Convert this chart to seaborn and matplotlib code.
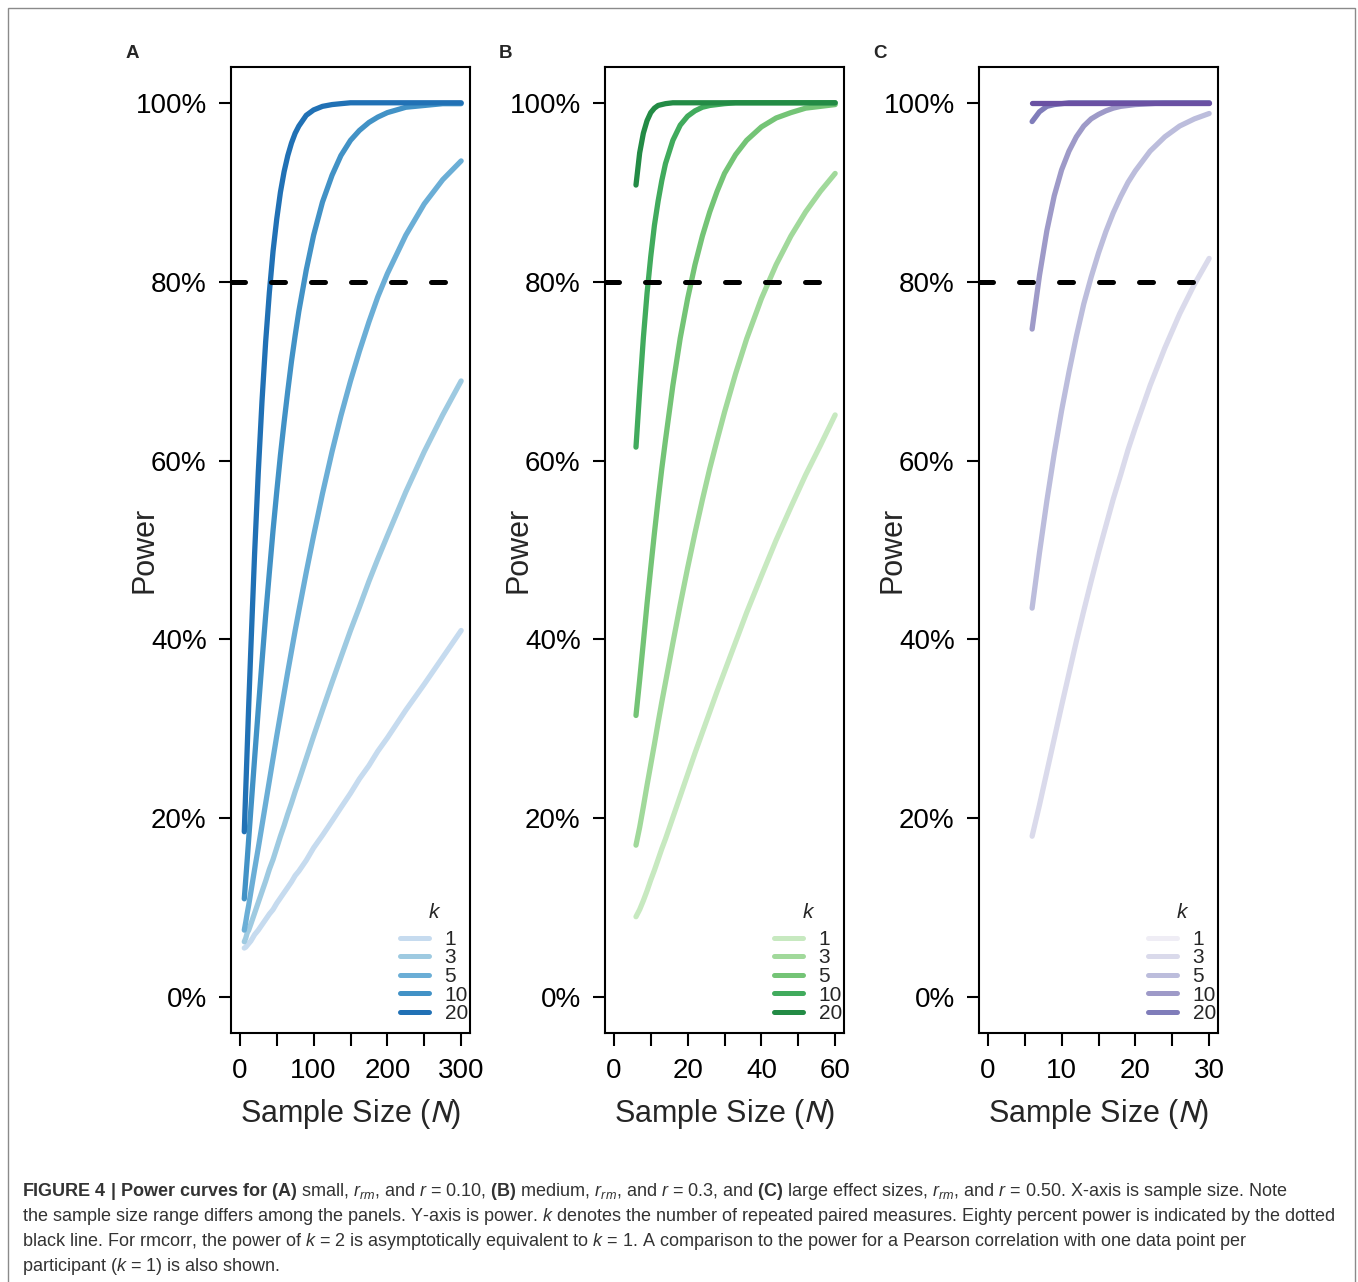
import numpy as np
import pandas as pd
import matplotlib
matplotlib.use("Agg")
import matplotlib.pyplot as plt
import seaborn as sns
from matplotlib import font_manager
from matplotlib.lines import Line2D
from matplotlib.patches import Rectangle
from matplotlib.ticker import PercentFormatter

# ---- data (power as a fraction) ----
k_levels = [1, 3, 5, 10, 20]
target_power = 0.80

# A: small effect, r = 0.10
a_n = [6, 8, 10, 12, 15, 20, 25, 30, 35, 40, 45, 50, 55, 60, 65, 70, 75, 80, 90, 100,
       112, 125, 137, 150, 162, 175, 187, 200, 225, 250, 275, 300]
a_k1 = [0.055, 0.056, 0.058, 0.060, 0.063, 0.070, 0.075, 0.081, 0.087, 0.093, 0.098, 0.105, 0.111, 0.117,
        0.123, 0.129, 0.136, 0.141, 0.153, 0.167, 0.181, 0.197, 0.212, 0.228, 0.244, 0.259, 0.275, 0.290,
        0.321, 0.350, 0.380, 0.410]
a_k3 = [0.062, 0.066, 0.072, 0.075, 0.082, 0.094, 0.106, 0.118, 0.130, 0.143, 0.154, 0.167, 0.180, 0.192,
        0.205, 0.217, 0.230, 0.242, 0.267, 0.292, 0.321, 0.352, 0.380, 0.410, 0.436, 0.465, 0.490, 0.516,
        0.565, 0.610, 0.651, 0.689]
a_k5 = [0.075, 0.084, 0.094, 0.103, 0.118, 0.143, 0.167, 0.192, 0.217, 0.242, 0.267, 0.292, 0.316, 0.340,
        0.364, 0.387, 0.410, 0.432, 0.475, 0.516, 0.563, 0.610, 0.650, 0.689, 0.722, 0.755, 0.783, 0.809,
        0.852, 0.887, 0.914, 0.935]
a_k10 = [0.110, 0.132, 0.154, 0.177, 0.211, 0.267, 0.322, 0.375, 0.427, 0.475, 0.522, 0.565, 0.606, 0.643,
         0.678, 0.711, 0.740, 0.767, 0.813, 0.852, 0.889, 0.919, 0.941, 0.958, 0.969, 0.978, 0.984, 0.989,
         0.995, 0.997, 0.999, 0.999]
a_k20 = [0.185, 0.232, 0.279, 0.326, 0.392, 0.496, 0.587, 0.666, 0.733, 0.788, 0.834, 0.870, 0.900, 0.923,
         0.941, 0.955, 0.966, 0.974, 0.986, 0.992, 0.996, 0.998, 0.999, 1.000, 1.000, 1.000, 1.000, 1.000,
         1.000, 1.000, 1.000, 1.000]

# B: medium effect, r = 0.3
b_n = [6, 7, 8, 9, 10, 11, 12, 13, 14, 16, 18, 20, 22, 24, 26, 28, 30, 33, 36, 40, 44, 48, 52, 56, 60]
b_k1 = [0.090, 0.098, 0.108, 0.119, 0.131, 0.142, 0.154, 0.166, 0.177, 0.201, 0.225, 0.249, 0.273, 0.296,
        0.319, 0.342, 0.364, 0.397, 0.430, 0.471, 0.511, 0.548, 0.584, 0.617, 0.651]
b_k3 = [0.170, 0.190, 0.213, 0.237, 0.260, 0.283, 0.307, 0.330, 0.352, 0.396, 0.439, 0.480, 0.519, 0.556,
        0.591, 0.623, 0.654, 0.697, 0.736, 0.781, 0.819, 0.851, 0.878, 0.901, 0.921]
b_k5 = [0.315, 0.355, 0.397, 0.440, 0.480, 0.519, 0.556, 0.591, 0.623, 0.684, 0.737, 0.781, 0.819, 0.851,
        0.878, 0.901, 0.921, 0.942, 0.958, 0.973, 0.983, 0.989, 0.994, 0.996, 0.998]
b_k10 = [0.615, 0.678, 0.737, 0.787, 0.828, 0.863, 0.890, 0.913, 0.932, 0.958, 0.975, 0.985, 0.991, 0.995,
         0.997, 0.998, 0.999, 1.000, 1.000, 1.000, 1.000, 1.000, 1.000, 1.000, 1.000]
b_k20 = [0.908, 0.944, 0.966, 0.980, 0.989, 0.994, 0.997, 0.998, 0.999, 1.000, 1.000, 1.000, 1.000, 1.000,
         1.000, 1.000, 1.000, 1.000, 1.000, 1.000, 1.000, 1.000, 1.000, 1.000, 1.000]

# C: large effect, r = 0.50
c_n = [6, 7, 8, 9, 10, 11, 12, 13, 14, 15, 16, 17, 18, 19, 20, 22, 24, 26, 28, 30]
c_k1 = [0.180, 0.215, 0.252, 0.289, 0.326, 0.362, 0.398, 0.432, 0.465, 0.497, 0.527, 0.557, 0.584, 0.612,
        0.637, 0.684, 0.726, 0.764, 0.797, 0.826]
c_k3 = [0.435, 0.497, 0.555, 0.608, 0.656, 0.699, 0.739, 0.775, 0.805, 0.832, 0.856, 0.877, 0.895, 0.911,
        0.924, 0.946, 0.962, 0.974, 0.982, 0.988]
c_k5 = [0.747, 0.807, 0.857, 0.896, 0.925, 0.946, 0.962, 0.974, 0.982, 0.987, 0.991, 0.994, 0.996, 0.997,
        0.998, 0.999, 1.000, 1.000, 1.000, 1.000]
c_k10 = [0.979, 0.990, 0.996, 0.998, 0.999, 1.000, 1.000, 1.000, 1.000, 1.000, 1.000, 1.000, 1.000, 1.000,
         1.000, 1.000, 1.000, 1.000, 1.000, 1.000]
c_k20 = [1.000] * 20

x_max = [300, 60, 30]
panel_letters = ["A", "B", "C"]

blues = ["#c6dbef", "#9ecae1", "#6baed6", "#4292c6", "#2171b5"]
greens = ["#c7e9c0", "#a1d99b", "#74c476", "#41ab5d", "#238b45"]
purples_lines = ["#dadaeb", "#bcbddc", "#9e9ac8", "#807dba", "#6a51a3"]
purples_legend = ["#efedf5", "#dadaeb", "#bcbddc", "#9e9ac8", "#807dba"]

caption_lines = [
    r"$\mathbf{FIGURE\ 4\ |\ Power\ curves\ for\ (A)}$ small, $r_{rm}$, and $r$ = 0.10, $\mathbf{(B)}$ medium, "
    r"$r_{rm}$, and $r$ = 0.3, and $\mathbf{(C)}$ large effect sizes, $r_{rm}$, and $r$ = 0.50. X-axis is sample size. Note",
    r"the sample size range differs among the panels. Y-axis is power. $k$ denotes the number of repeated paired "
    r"measures. Eighty percent power is indicated by the dotted",
    r"black line. For rmcorr, the power of $k$ = 2 is asymptotically equivalent to $k$ = 1. A comparison to the "
    r"power for a Pearson correlation with one data point per",
    r"participant ($k$ = 1) is also shown.",
]


def long_form(n, curves):
    rows = []
    for k, vals in zip(k_levels, curves):
        rows.append(pd.DataFrame({"N": n, "power": vals, "k": k}))
    return pd.concat(rows, ignore_index=True)


panels = [
    (long_form(a_n, [a_k1, a_k3, a_k5, a_k10, a_k20]), blues, blues),
    (long_form(b_n, [b_k1, b_k3, b_k5, b_k10, b_k20]), greens, greens),
    (long_form(c_n, [c_k1, c_k3, c_k5, c_k10, c_k20]), purples_lines, purples_legend),
]

sns.set_theme(style="ticks")
names = {f.name for f in font_manager.fontManager.ttflist}
cap_font = "Liberation Sans Narrow" if "Liberation Sans Narrow" in names else "Liberation Sans"
plt.rcParams["font.family"] = ["Liberation Sans", "DejaVu Sans"]
plt.rcParams["mathtext.fontset"] = "custom"
plt.rcParams["mathtext.rm"] = cap_font
plt.rcParams["mathtext.it"] = cap_font + ":italic"
plt.rcParams["mathtext.bf"] = cap_font + ":bold"

W, H = 1358, 1282
fig = plt.figure(figsize=(W / 100, H / 100), dpi=100)
fig.patch.set_facecolor("white")

lefts = [231, 605, 979]
for i, (df, line_cols, leg_cols) in enumerate(panels):
    ax = fig.add_axes([lefts[i] / W, (H - 1033) / H, 239 / W, 966 / H])
    sns.lineplot(data=df, x="N", y="power", hue="k", hue_order=k_levels,
                 palette=dict(zip(k_levels, line_cols)), linewidth=3.8,
                 solid_capstyle="round", legend=False, errorbar=None, ax=ax)
    ax.axhline(target_power, color="black", lw=3.6, linestyle=(0, (2.8, 5.2)),
               dash_capstyle="round")

    xm = x_max[i]
    ax.set_xlim(-0.04 * xm, 1.04 * xm)
    ax.set_ylim(-0.04, 1.04)
    xt = np.linspace(0, xm, 7)
    ax.set_xticks(xt)
    ax.set_xticklabels([f"{v:g}" if j % 2 == 0 else "" for j, v in enumerate(xt)])
    ax.set_yticks(np.arange(0, 1.01, 0.2))
    ax.yaxis.set_major_formatter(PercentFormatter(xmax=1, decimals=0))
    ax.tick_params(direction="out", length=9, width=1.5, labelsize=20, colors="black")
    ax.tick_params(axis="x", pad=9)
    ax.tick_params(axis="y", pad=8.5)
    for sp in ax.spines.values():
        sp.set_visible(True)
        sp.set_linewidth(1.5)
        sp.set_color("black")

    ax.set_xlabel(r"Sample Size ($N$)", fontsize=22, math_fontfamily="stixsans", va="top")
    ax.xaxis.set_label_coords(0.5, -0.066)
    ax.set_ylabel("Power", fontsize=22)
    ax.yaxis.set_label_coords(-0.30, 0.5)

    handles = [Line2D([], [], color=c, lw=3.6, solid_capstyle="round") for c in leg_cols]
    leg = ax.legend(handles, [str(k) for k in k_levels], title="k", loc="lower right",
                    bbox_to_anchor=(1.0, 0.008), frameon=False, fontsize=15, title_fontsize=15,
                    handlelength=1.4, handletextpad=0.75, labelspacing=-0.02,
                    borderaxespad=0.1, borderpad=0)
    leg.get_title().set_fontstyle("italic")
    leg._legend_box.sep = 5.5

    fig.text((lefts[i] - 99) / W, 1 - 54 / H, panel_letters[i], fontsize=13.5,
             fontweight="bold", ha="center", va="center")

# outer frame of the figure box
fig.add_artist(Rectangle((8 / W, -0.1), (1355 - 8) / W, 1.1 - 8 / H, transform=fig.transFigure,
                         fill=False, edgecolor="#8a8a8a", lw=1.0))

caps = []
for j, line in enumerate(caption_lines):
    t = fig.text(22 / W, 1 - (1196 + 25 * j) / H, line, fontsize=12, family=cap_font,
                 color="#333333", ha="left", va="baseline")
    caps.append(t)
renderer = fig.canvas.get_renderer()
scale = 1315 / caps[1].get_window_extent(renderer).width
for t in caps:
    t.set_fontsize(12 * scale)

fig.savefig("out.png", dpi=100)
